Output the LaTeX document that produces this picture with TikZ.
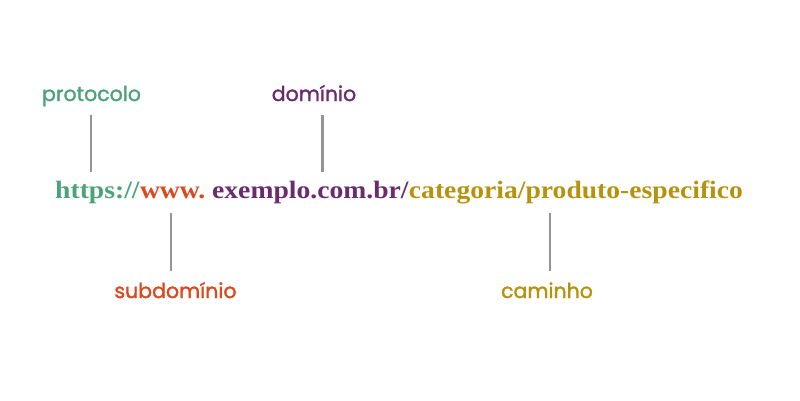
\documentclass[tikz,border=0pt]{standalone}
\usepackage{fontspec}
\setmainfont{Liberation Serif}
\newfontfamily\urlfont[FakeStretch=1.105]{Liberation Serif}
\newfontfamily\labelfont[FakeBold=1.6]{Poppins}
\definecolor{cproto}{HTML}{4DA27B}
\definecolor{csub}{HTML}{D94A1E}
\definecolor{cdom}{HTML}{6A2C6E}
\definecolor{cpath}{HTML}{B5930F}
\definecolor{cline}{HTML}{959595}
\begin{document}
\begin{tikzpicture}[x=1pt,y=-1pt,
  lbl/.style={inner sep=0pt,anchor=base,font=\labelfont\fontsize{20.5}{24}\selectfont},
  urlpart/.style={inner sep=0pt,anchor=base west,font=\urlfont\bfseries\fontsize{25}{28}\selectfont},
  conn/.style={draw=cline,line width=2.6pt}]
\useasboundingbox (0,0) rectangle (800,400);
% URL parts
\node[urlpart,text=cproto] (uproto) at (55,198) {https://};
\node[urlpart,text=csub] (usub) at (uproto.base east) {www.};
\node[urlpart,text=cdom] (udom) at ([xshift=6.5pt]usub.base east) {exemplo.com.br/};
\node[urlpart,text=cpath] (upath) at (udom.base east) {categoria/produto-especifico};
% labels
\node[lbl,text=cproto] (lproto) at (91.5,101) {protocolo};
\node[lbl,text=cdom] (ldom) at (314,101) {domínio};
\node[lbl,text=csub] (lsub) at (175.5,298) {subdomínio};
\node[lbl,text=cpath] (lpath) at (547,298) {caminho};
% connectors
\coordinate (p1) at (91,115); \coordinate (p2) at (91,172);
\coordinate (d1) at (322.5,115); \coordinate (d2) at (322.5,172);
\coordinate (s1) at (171,213); \coordinate (s2) at (171,271);
\coordinate (c1) at (550,213); \coordinate (c2) at (550,271);
\draw[conn] (p1) -- (p2);
\draw[conn] (d1) -- (d2);
\draw[conn] (s1) -- (s2);
\draw[conn] (c1) -- (c2);
\end{tikzpicture}
\end{document}
